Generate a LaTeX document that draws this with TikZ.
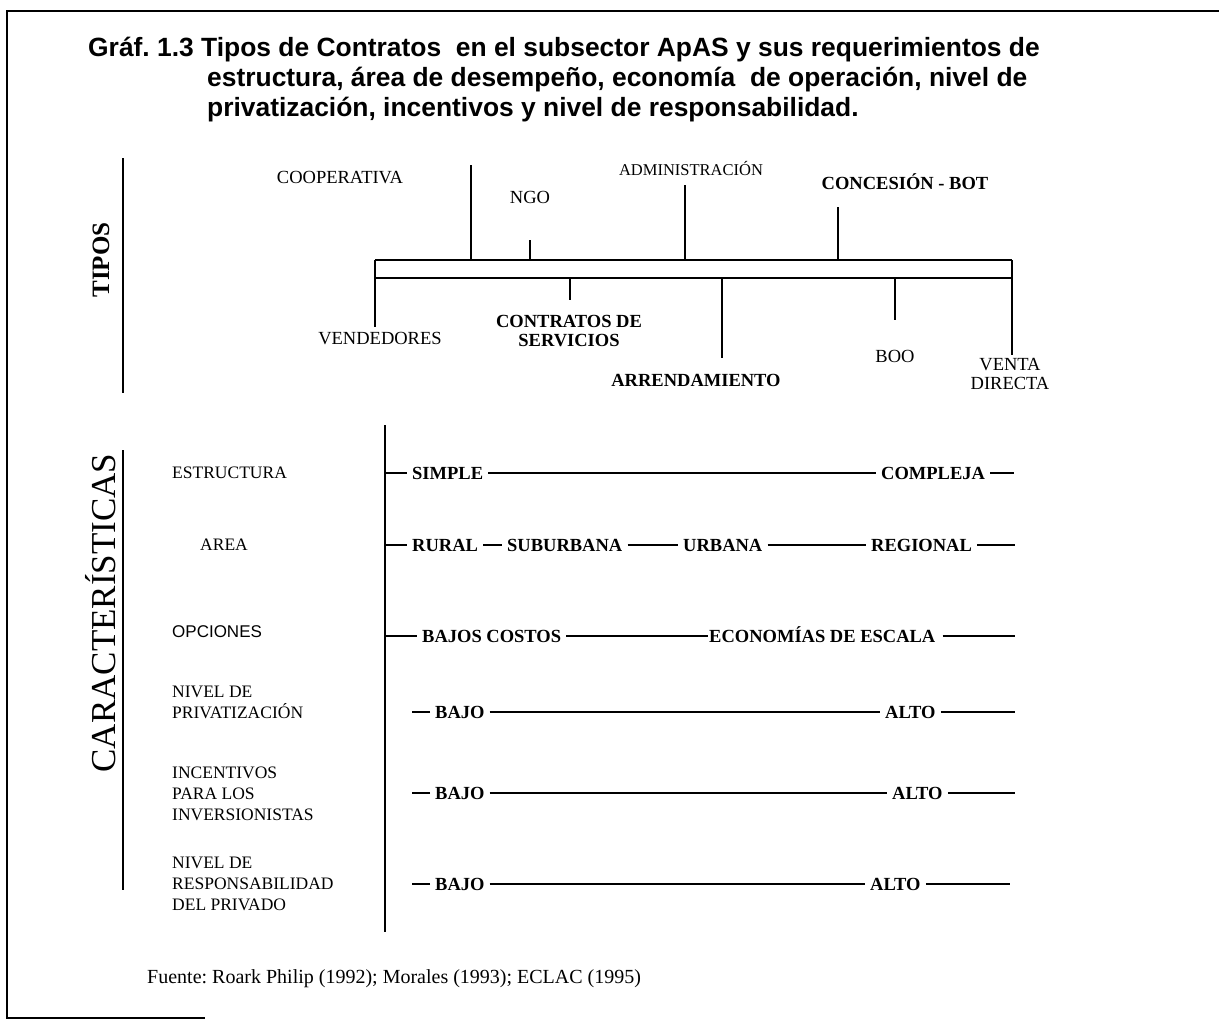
\documentclass[tikz,border=0pt]{standalone}
\usepackage{fontspec}
\setmainfont{Liberation Serif}
\newfontfamily\sansfont{Liberation Sans}
\frenchspacing
\begin{document}
\begin{tikzpicture}[x=1pt,y=-1pt,
  rule/.style={line width=1.7pt},
  framerule/.style={line width=2pt},
  ttl/.style={anchor=base west, inner sep=0pt, font=\sansfont\bfseries\fontsize{26.4}{30}\selectfont},
  typ/.style={inner sep=0pt, align=center, font=\fontsize{18.5}{19}\selectfont},
  typb/.style={typ, font=\fontsize{18.5}{19}\selectfont\bfseries},
  side/.style={inner sep=0pt, rotate=90},
  feat/.style={anchor=west, inner sep=0pt, align=left, font=\fontsize{17.5}{21}\selectfont},
  val/.style={anchor=base west, inner xsep=5pt, inner ysep=0pt, text height=12.5pt, text depth=0pt,
              font=\fontsize{18.5}{20}\selectfont\bfseries},
]
\useasboundingbox (0,0) rectangle (1219,1033);

% outer frame (open on the right)
\coordinate (fr1) at (1219,11);
\coordinate (fr2) at (7,11);
\coordinate (fr3) at (7,1018);
\coordinate (fr4) at (205,1018);
\draw[framerule] (fr1) -- (fr2) -- (fr3) -- (fr4);

% heading
\node[ttl] (t1) at (88,57) {Gráf. 1.3 Tipos de Contratos\ \ en el subsector ApAS y sus requerimientos de};
\node[ttl] (t2) at (207,87) {estructura, área de desempeño, economía\ \ de operación, nivel de};
\node[ttl] (t3) at (207,117) {privatización, incentivos y nivel de responsabilidad.};

% ---------- contract types ----------
\node[side, font=\fontsize{25}{26}\selectfont\bfseries] (tipos) at (101,260) {TIPOS};
\coordinate (tb1) at (123,158);
\coordinate (tb2) at (123,393);
\draw[rule] (tb1) -- (tb2);

% double bar
\coordinate (bl) at (375,260);
\coordinate (br) at (1012,260);
\coordinate (bl2) at (375,278);
\coordinate (br2) at (1012,278);
\draw[rule] (bl) -- (br);
\draw[rule] (bl2) -- (br2);

% labels above and below the bar
\node[typ] (coop) at (340,178) {COOPERATIVA};
\node[typ] (ngo) at (530,197) {NGO};
\node[typ, font=\fontsize{16.5}{18}\selectfont] (admin) at (691,168) {ADMINISTRACIÓN};
\node[typb] (conc) at (905,182) {CONCESIÓN - BOT};
\node[typ] (vend) at (380,339) {VENDEDORES};
\node[typb] (cont) at (569,331) {CONTRATOS DE\\SERVICIOS};
\node[typb] (arr) at (696,380) {ARRENDAMIENTO};
\node[typ] (boo) at (895,356) {BOO};
\node[typ] (venta) at (1010,374) {VENTA\\DIRECTA};

% ticks from the bar
\coordinate (kcoop) at (471,165);
\coordinate (kngo) at (530,240);
\coordinate (kadm) at (685,185);
\coordinate (kconc) at (838,207);
\coordinate (kvend) at (375,327);
\coordinate (kcont) at (570,300);
\coordinate (karr) at (722,358);
\coordinate (kboo) at (895,320);
\coordinate (kventa) at (1012,355);
\draw[rule] (kcoop) -- (kcoop |- bl);
\draw[rule] (kngo) -- (kngo |- bl);
\draw[rule] (kadm) -- (kadm |- bl);
\draw[rule] (kconc) -- (kconc |- bl);
\draw[rule] (bl) -- (kvend);
\draw[rule] (kcont |- bl2) -- (kcont);
\draw[rule] (karr |- bl2) -- (karr);
\draw[rule] (kboo |- bl2) -- (kboo);
\draw[rule] (br) -- (kventa);

% ---------- characteristics ----------
\node[side, font=\fontsize{35}{36}\selectfont] (carac) at (101,613) {CARACTERÍSTICAS};
\coordinate (cb1) at (123,450);
\coordinate (cb2) at (123,890);
\draw[rule] (cb1) -- (cb2);

\node[feat] (estr) at (172,473) {ESTRUCTURA};
\node[feat] (area) at (200,545) {AREA};
\node[feat, font=\sansfont\fontsize{17}{21}\selectfont] (opc) at (172,632) {OPCIONES};
\node[feat] (priv) at (172,702) {NIVEL DE\\PRIVATIZACIÓN};
\node[feat] (inc) at (172,794) {INCENTIVOS\\PARA LOS\\INVERSIONISTAS};
\node[feat] (resp) at (172,884) {NIVEL DE\\RESPONSABILIDAD\\DEL PRIVADO};

% divider
\coordinate (div) at (385,425);
\coordinate (div2) at (385,932);
\draw[rule] (div) -- (div2);

% row 1: structure
\node[val] (simple) at (407,479) {SIMPLE};
\node[val] (complx) at (876,479) {COMPLEJA};
\draw[rule] (simple.west -| div) -- (simple.west);
\draw[rule] (simple.east) -- (complx.west);
\draw[rule] (complx.east) -- ++(24,0);

% row 2: area
\node[val] (rural) at (407,551) {RURAL};
\node[val] (suburb) at (502,551) {SUBURBANA};
\node[val] (urban) at (678,551) {URBANA};
\node[val] (region) at (866,551) {REGIONAL};
\draw[rule] (rural.west -| div) -- (rural.west);
\draw[rule] (rural.east) -- (suburb.west);
\draw[rule] (suburb.east) -- (urban.west);
\draw[rule] (urban.east) -- (region.west);
\draw[rule] (region.east) -- ++(38,0);

% row 3: options
\node[val] (lowcost) at (417,642) {BAJOS COSTOS};
\node[val, inner xsep=1pt] (scale) at (708,642) {ECONOMÍAS DE ESCALA};
\draw[rule] (lowcost.west -| div) -- (lowcost.west);
\draw[rule] (lowcost.east) -- (scale.west);
\draw[rule] ([xshift=6pt]scale.east) -- ++(72,0);

% row 4: privatisation
\node[val] (lo4) at (430,718) {BAJO};
\node[val] (hi4) at (880,718) {ALTO};
\draw[rule] (lo4.west) -- ++(-18,0);
\draw[rule] (lo4.east) -- (hi4.west);
\draw[rule] (hi4.east) -- ++(74,0);

% row 5: investor incentives
\node[val] (lo5) at (430,799) {BAJO};
\node[val] (hi5) at (887,799) {ALTO};
\draw[rule] (lo5.west) -- ++(-18,0);
\draw[rule] (lo5.east) -- (hi5.west);
\draw[rule] (hi5.east) -- ++(67,0);

% row 6: private responsibility
\node[val] (lo6) at (430,890) {BAJO};
\node[val] (hi6) at (865,890) {ALTO};
\draw[rule] (lo6.west) -- ++(-18,0);
\draw[rule] (lo6.east) -- (hi6.west);
\draw[rule] (hi6.east) -- ++(84,0);

% source
\node[anchor=base west, inner sep=0pt, font=\fontsize{20}{22}\selectfont] (src) at (147,983)
  {Fuente: Roark Philip (1992); Morales (1993); ECLAC (1995)};
\end{tikzpicture}
\end{document}
